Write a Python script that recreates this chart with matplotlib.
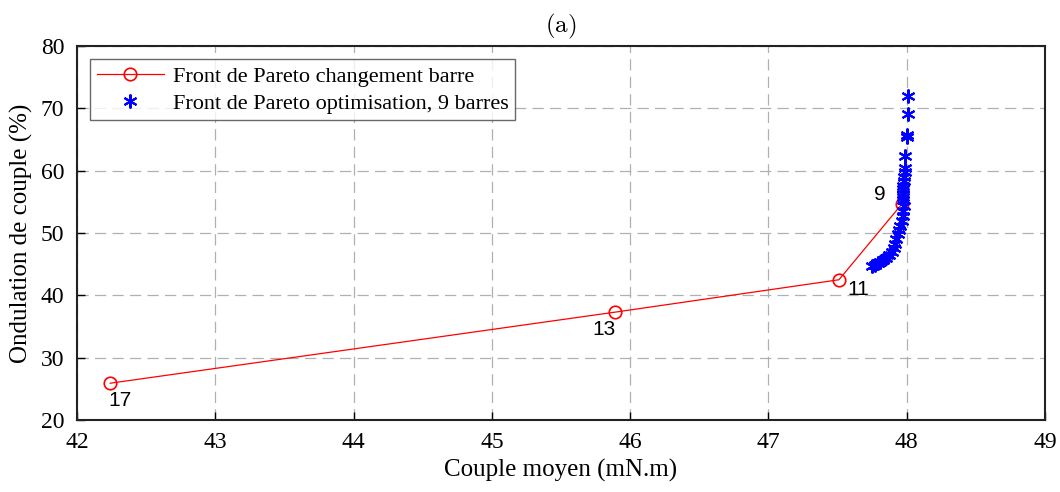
import matplotlib
matplotlib.use("Agg")
import matplotlib.pyplot as plt

# front de Pareto obtenu en changeant le nombre de barres
bar_couple = [42.24, 45.89, 47.51, 47.965]
bar_ondulation = [25.9, 37.3, 42.5, 54.65]
bar_labels = ["17", "13", "11", "9"]

# front de Pareto de l'optimisation a 9 barres
opt_couple = [48.01, 48.01, 48.0, 48.0, 47.99, 47.99, 47.985, 47.98, 47.98, 47.975,
              47.97, 47.97, 47.97, 47.975, 47.98, 47.975, 47.97, 47.965, 47.955, 47.945,
              47.935, 47.925, 47.915, 47.905, 47.89, 47.87, 47.85, 47.83, 47.81, 47.79,
              47.77, 47.75]
opt_ondulation = [72.0, 69.1, 65.7, 65.4, 62.3, 60.4, 59.8, 59.0, 58.3, 57.5,
                  57.0, 56.3, 55.8, 55.3, 54.3, 53.5, 52.8, 52.0, 51.2, 50.5,
                  49.8, 49.0, 48.3, 47.6, 47.0, 46.5, 46.0, 45.7, 45.4, 45.2,
                  44.9, 44.7]

plt.rcParams['font.family'] = ['Liberation Serif', 'DejaVu Serif']
plt.rcParams['mathtext.fontset'] = 'cm'

fig = plt.figure(figsize=(10.6, 4.92), dpi=100)
ax = fig.add_axes([77/1060, 1 - 420/492, (1045 - 77)/1060, (420 - 46)/492])

ax.plot(bar_couple, bar_ondulation, color='red', lw=0.9, marker='o', ms=9,
        mfc='none', mec='red', mew=1.2, label='Front de Pareto changement barre')
ax.plot(opt_couple, opt_ondulation, ls='none', marker=(6, 2, 0), ms=10, mew=1.5,
        color='blue', label='Front de Pareto optimisation, 9 barres')

offsets = {"17": (0.07, -2.8), "13": (-0.08, -2.8), "11": (0.14, -1.6), "9": (-0.16, 1.5)}
for x, y, lab in zip(bar_couple, bar_ondulation, bar_labels):
    dx, dy = offsets[lab]
    ax.text(x + dx, y + dy, lab, family='Liberation Sans', fontsize=15,
            ha='center', va='center')

ax.set_xlim(42, 49)
ax.set_ylim(20, 80)
ax.set_xticks(range(42, 50))
ax.set_yticks(range(20, 81, 10))
ax.grid(True, ls=(0, (9, 5)), color='#b0b0b0', lw=0.9)
ax.tick_params(direction='in', labelsize=17, length=6, width=1, pad=9)
for s in ax.spines.values():
    s.set_linewidth(1.5)
    s.set_color('#222222')

ax.set_xlabel('Couple moyen (mN.m)', fontsize=18, labelpad=4)
ax.set_ylabel('Ondulation de couple (%)', fontsize=18, labelpad=6)
ax.set_title(r'$\mathrm{(a)}$', fontsize=18, pad=10)

leg = ax.legend(loc='upper left', fontsize=16, frameon=True, fancybox=False,
                edgecolor='#444444', borderaxespad=0.6, handlelength=3.0,
                borderpad=0.3, labelspacing=0.3, handletextpad=0.4)
leg.get_frame().set_linewidth(1.0)

fig.savefig('out.png', dpi=100)
